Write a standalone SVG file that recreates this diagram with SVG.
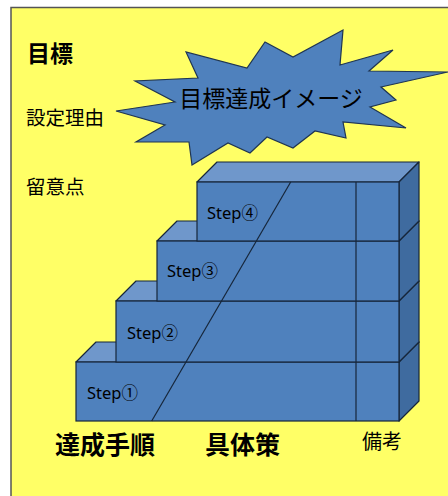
<svg xmlns="http://www.w3.org/2000/svg" width="448" height="496" viewBox="0 0 448 496">
<style>
.bg{fill:#FFFF66;stroke:#555;stroke-width:1.5}
.front{fill:#4F81BD;stroke:#16263a;stroke-width:1.2}
.top{fill:#6F97CB;stroke:#16263a;stroke-width:1.2;stroke-linejoin:round}
.side{fill:#3F6B9F;stroke:#16263a;stroke-width:1.2;stroke-linejoin:round}
.burst{fill:#4F81BD;stroke:#1F3552;stroke-width:1.2;stroke-linejoin:miter}
.jp{font-family:"Noto Sans CJK JP","Noto Sans",sans-serif;fill:#000}
.step{font-family:"Noto Sans","Noto Sans CJK JP",sans-serif;font-size:16.5px;fill:#000}
.ln{stroke:#16263a;stroke-width:1.2;fill:none}
</style>
<rect x="0" y="0" width="448" height="496" fill="#ffffff"/>
<rect class="bg" x="11" y="7.5" width="440" height="492"/>
<g id="labels-left">
<text class="jp" x="27" y="62" font-size="23" font-weight="bold">目標</text>
<text class="jp" x="26" y="125" font-size="19.5">設定理由</text>
<text class="jp" x="26" y="194" font-size="19.5">留意点</text>
</g>
<g id="burst">
<polygon class="burst" points="116,111 175,102 135,81 198,78 186,52 247,68 265,42 293,57 343,30 340,65 393,50 369,71 448,72 381,87 396,100 370,107 406,128 343,122 346,138 315,131 293,148 267,137 250,153 228,143 192,165 189,142 136,142 165,125"/>
<text class="jp" x="271" y="107" font-size="23" text-anchor="middle">目標達成イメージ</text>
</g>
<g id="step1">
<polygon class="top" points="76,362 96,342 419,342 399,362"/>
<polygon class="side" points="399,362 419,342 419,401 399,421"/>
<rect class="front" x="76" y="362" width="323" height="59"/>
<text class="step" x="87" y="399">Step①</text>
</g>
<g id="step2">
<polygon class="top" points="116,301 136,281 419,281 399,301"/>
<polygon class="side" points="399,301 419,281 419,342 399,362"/>
<rect class="front" x="116" y="301" width="283" height="61"/>
<text class="step" x="127" y="339">Step②</text>
</g>
<g id="step3">
<polygon class="top" points="157,241 177,221 419,221 399,241"/>
<polygon class="side" points="399,241 419,221 419,281 399,301"/>
<rect class="front" x="157" y="241" width="242" height="60"/>
<text class="step" x="167" y="277">Step③</text>
</g>
<g id="step4">
<polygon class="top" points="197,182 217,162 419,162 399,182"/>
<polygon class="side" points="399,182 419,162 419,221 399,241"/>
<rect class="front" x="197" y="182" width="202" height="59"/>
<text class="step" x="207" y="219">Step④</text>
</g>
<g id="connectors">
<line class="ln" x1="290.7" y1="182" x2="151.7" y2="421"/>
<line class="ln" x1="356" y1="182" x2="356" y2="421"/>
</g>
<g id="labels-bottom">
<text class="jp" x="55" y="454" font-size="25" font-weight="bold">達成手順</text>
<text class="jp" x="205" y="454" font-size="25" font-weight="bold">具体策</text>
<text class="jp" x="362" y="449" font-size="20" fill="#333">備考</text>
</g>
</svg>
